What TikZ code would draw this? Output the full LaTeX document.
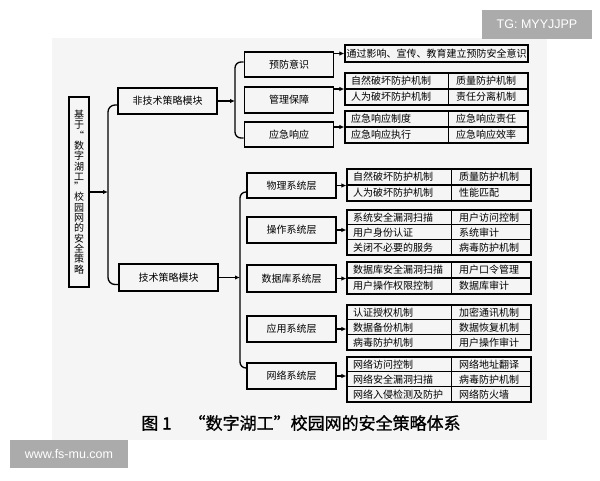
\documentclass[tikz,border=0pt]{standalone}
\usepackage{fontspec}
\newfontfamily\cjk{Noto Sans CJK SC}
\newfontfamily\cjkb[FakeBold=1]{Noto Sans CJK SC}
\newfontfamily\wmfont{Liberation Sans}
\usetikzlibrary{arrows.meta,calc}
\begin{document}
\begin{tikzpicture}[x=1pt,y=-1pt,
  every node/.style={font=\cjk\fontsize{10}{11}\selectfont, inner sep=0pt},
  box/.style={draw, line width=1.6pt, minimum width=89pt, minimum height=25pt},
  tbl/.style={draw, line width=1.2pt},
  sep/.style={line width=1.1pt},
  ln/.style={line width=1.3pt},
  arr/.style={line width=1.3pt, -{Latex[length=5pt,width=4.5pt]}},
  cell/.style={anchor=west},
  wm/.style={fill=black!33, text=white, font=\wmfont\fontsize{12.5}{14}\selectfont}
]
\useasboundingbox (0,0) rectangle (600,480);
\fill[black!4] (52,38) rectangle (547,440);

% main vertical box
\node[draw, line width=1.6pt, minimum width=20pt, minimum height=190pt, align=center,
      font=\cjk\fontsize{10}{10.3}\selectfont] (main) at (79,192)
  {基\\于\\“\\数\\字\\湖\\工\\”\\校\\园\\网\\的\\安\\全\\策\\略};

% modules
\node[box, minimum width=99pt, minimum height=26pt] (nt) at (167.5,101) {非技术策略模块};
\node[box, minimum width=99pt, minimum height=27pt] (te) at (168.5,277.5) {技术策略模块};

\coordinate (tr) at (108,192);
\draw[ln, rounded corners=7pt] ([yshift=-4pt]nt.west) -| (tr) |- ([yshift=-7pt]te.west);
\draw[arr] (main.east) -- (tr);

% non-technical branch
\node[box] (b1) at (289,64.5) {预防意识};
\node[box, minimum height=26pt] (b2) at (289,100) {管理保障};
\node[box] (b3) at (289,134.5) {应急响应};
\coordinate (br1) at (235,101);
\draw[ln, rounded corners=6pt] ([yshift=2.5pt]b1.west) -| (br1) |- ([yshift=-3.5pt]b3.west);
\draw[arr] (nt.east) -- (br1);

% technical branch
\node[box] (p1) at (291.5,185.5) {物理系统层};
\node[box, minimum height=26pt] (p2) at (291.5,230) {操作系统层};
\node[box, minimum height=27pt] (p3) at (291.5,278.5) {数据库系统层};
\node[box, minimum height=26pt] (p4) at (291.5,329) {应用系统层};
\node[box, minimum height=26pt] (p5) at (291.5,376) {网络系统层};
\coordinate (br2) at (240,277.5);
\draw[ln, rounded corners=6pt] ([yshift=-6.5pt]p1.west) -| (br2) |- ([yshift=8pt]p5.west);
\draw[arr] (te.east) -- (br2);

% non-technical tables
\node[tbl, minimum width=183pt, minimum height=17pt] (t1) at (436.5,53.5) {通过影响、宣传、教育建立预防安全意识};

\node[tbl, minimum width=183pt, minimum height=32pt] (t2) at (436.5,89) {};
\draw[sep] (t2.west) -- (t2.east);
\draw[sep] ($(t2.north west)+(104,0)$) -- ($(t2.south west)+(104,0)$);
\node[cell] at (351,81) {自然破坏防护机制};
\node[cell] at (456,81) {质量防护机制};
\node[cell] at (351,97) {人为破坏防护机制};
\node[cell] at (456,97) {责任分离机制};

\node[tbl, minimum width=183pt, minimum height=32pt] (t3) at (436.5,127) {};
\draw[sep] (t3.west) -- (t3.east);
\draw[sep] ($(t3.north west)+(104,0)$) -- ($(t3.south west)+(104,0)$);
\node[cell] at (351,119) {应急响应制度};
\node[cell] at (456,119) {应急响应责任};
\node[cell] at (351,135) {应急响应执行};
\node[cell] at (456,135) {应急响应效率};

\draw[arr] (b1.east |- t1.west) -- (t1.west);
\draw[arr] (b2.east |- t2.west) -- (t2.west);
\draw[arr] (b3.east |- t3.west) -- (t3.west);

% technical tables
\node[tbl, minimum width=184pt, minimum height=32pt] (t4) at (439,185) {};
\draw[sep] (t4.west) -- (t4.east);
\draw[sep] ($(t4.north west)+(105,0)$) -- ($(t4.south west)+(105,0)$);
\node[cell] at (353,177) {自然破坏防护机制};
\node[cell] at (459,177) {质量防护机制};
\node[cell] at (353,193) {人为破坏防护机制};
\node[cell] at (459,193) {性能匹配};

\node[tbl, minimum width=184pt, minimum height=45pt] (t5) at (439,232.5) {};
\draw[sep] ($(t5.north west)+(0,15)$) -- ($(t5.north east)+(0,15)$);
\draw[sep] ($(t5.north west)+(0,30)$) -- ($(t5.north east)+(0,30)$);
\draw[sep] ($(t5.north west)+(105,0)$) -- ($(t5.south west)+(105,0)$);
\node[cell] at (353,217.5) {系统安全漏洞扫描};
\node[cell] at (459,217.5) {用户访问控制};
\node[cell] at (353,232.5) {用户身份认证};
\node[cell] at (459,232.5) {系统审计};
\node[cell] at (353,247.5) {关闭不必要的服务};
\node[cell] at (459,247.5) {病毒防护机制};

\node[tbl, minimum width=184pt, minimum height=32pt] (t6) at (439,278) {};
\draw[sep] (t6.west) -- (t6.east);
\draw[sep] ($(t6.north west)+(105,0)$) -- ($(t6.south west)+(105,0)$);
\node[cell] at (353,270) {数据库安全漏洞扫描};
\node[cell] at (459,270) {用户口令管理};
\node[cell] at (353,286) {用户操作权限控制};
\node[cell] at (459,286) {数据库审计};

\node[tbl, minimum width=184pt, minimum height=45pt] (t7) at (439,327.5) {};
\draw[sep] ($(t7.north west)+(0,15)$) -- ($(t7.north east)+(0,15)$);
\draw[sep] ($(t7.north west)+(0,30)$) -- ($(t7.north east)+(0,30)$);
\draw[sep] ($(t7.north west)+(105,0)$) -- ($(t7.south west)+(105,0)$);
\node[cell] at (353,312.5) {认证授权机制};
\node[cell] at (459,312.5) {加密通讯机制};
\node[cell] at (353,327.5) {数据备份机制};
\node[cell] at (459,327.5) {数据恢复机制};
\node[cell] at (353,342.5) {病毒防护机制};
\node[cell] at (459,342.5) {用户操作审计};

\node[tbl, minimum width=184pt, minimum height=45pt] (t8) at (439,379.5) {};
\draw[sep] ($(t8.north west)+(0,15)$) -- ($(t8.north east)+(0,15)$);
\draw[sep] ($(t8.north west)+(0,30)$) -- ($(t8.north east)+(0,30)$);
\draw[sep] ($(t8.north west)+(105,0)$) -- ($(t8.south west)+(105,0)$);
\node[cell] at (353,364.5) {网络访问控制};
\node[cell] at (459,364.5) {网络地址翻译};
\node[cell] at (353,379.5) {网络安全漏洞扫描};
\node[cell] at (459,379.5) {病毒防护机制};
\node[cell] at (353,394.5) {网络入侵检测及防护};
\node[cell] at (459,394.5) {网络防火墙};

\draw[arr] (p1.east) -- (p1.east -| t4.west);
\draw[arr] (p2.east) -- (p2.east -| t5.west);
\draw[arr] (p3.east) -- (p3.east -| t6.west);
\draw[arr] (p4.east) -- (p4.east -| t7.west);
\draw[arr] (p5.east) -- (p5.east -| t8.west);

% caption
\node[font=\cjkb\fontsize{17}{20}\selectfont] (cap) at (301,423) {图 1\quad “数字湖工”校园网的安全策略体系};

% watermarks
\node[wm, minimum width=110pt, minimum height=29pt] (tg) at (537,24.5) {TG: MYYJJPP};
\node[wm, minimum width=118pt, minimum height=28pt] (fs) at (69,454) {www.fs-mu.com};
\end{tikzpicture}
\end{document}
